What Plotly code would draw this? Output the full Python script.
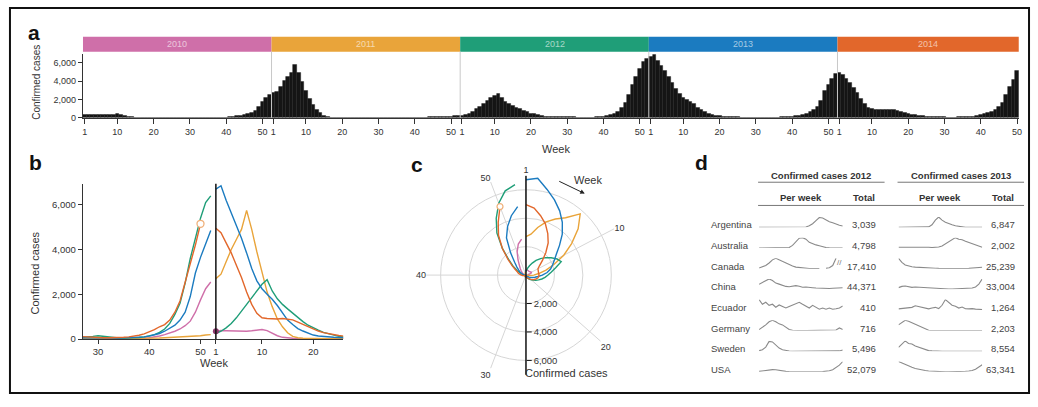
import plotly.graph_objects as go

W, H = 1038, 407


def px(x):
    return x / W


def py(y):
    return 1 - y / H


FONT = "Liberation Sans, Arial, sans-serif"
TXT = "#333333"

# ---------------- data ----------------
YEARS = [2010, 2011, 2012, 2013, 2014]
YEAR_COLORS = ["#cf6fa9", "#e9a43a", "#1f9e78", "#1b7bc0", "#e2672b"]

CASES_2010 = [350, 380, 370, 360, 350, 340, 350, 370, 390, 430,
              380, 250, 150, 80, 50, 40, 30, 30, 25, 20,
              20, 20, 20, 20, 20, 20, 20, 20, 20, 20,
              20, 20, 25, 25, 25, 30, 30, 35, 40, 60,
              90, 140, 200, 270, 350, 450, 600, 800, 1200, 1750,
              2250, 2550]
CASES_2011 = [2700, 2900, 3450, 4000, 4450, 4900, 5750, 4900, 3900, 3000,
              2100, 1450, 900, 550, 280, 120, 60, 40, 30, 30,
              25, 25, 20, 20, 20, 20, 20, 20, 20, 20,
              20, 20, 20, 20, 20, 25, 25, 25, 30, 30,
              40, 50, 60, 70, 80, 100, 110, 120, 130, 150,
              180, 200]
CASES_2012 = [250, 350, 500, 700, 950, 1250, 1550, 1850, 2150, 2450,
              2650, 2150, 1800, 1550, 1350, 1150, 950, 780, 620, 500,
              400, 300, 230, 170, 120, 90, 80, 90, 120, 150,
              120, 80, 60, 50, 50, 50, 60, 70, 100, 140,
              200, 300, 450, 700, 1100, 1600, 2500, 3600, 4500, 5400,
              6100, 6400]
CASES_2013 = [6700, 6850, 6200, 5650, 5100, 4500, 3850, 3150, 2600, 2250,
              2000, 1780, 1500, 1150, 850, 650, 470, 360, 260, 180,
              140, 110, 90, 80, 70, 60, 55, 50, 50, 50,
              50, 50, 50, 50, 55, 60, 70, 80, 100, 130,
              180, 250, 350, 480, 620, 850, 1200, 1900, 2950, 3650,
              4300, 4850]
CASES_2014 = [4950, 4750, 4300, 3850, 3300, 2750, 2100, 1550, 1150, 950,
              920, 900, 900, 920, 900, 860, 760, 660, 560, 450,
              360, 290, 240, 200, 160, 130, 110, 90, 80, 70,
              60, 60, 60, 70, 80, 100, 130, 170, 230, 320,
              420, 550, 650, 850, 1200, 1700, 2500, 3400, 4200, 5150]
WEEKLY = [CASES_2010, CASES_2011, CASES_2012, CASES_2013, CASES_2014]
WEEKS_PER_YEAR = 52

A_TICK_WEEKS = [1, 10, 20, 30, 40, 50]
A_Y_TICKS = [0, 2000, 4000, 6000]
B_TICK_WEEKS = [30, 40, 50, 1, 10, 20]
B_Y_TICKS = [0, 2000, 4000, 6000]
C_TICK_WEEKS = [1, 10, 20, 30, 40, 50]
C_R_TICKS = [2000, 4000, 6000]

# panel d: sparkline shapes (relative heights, 0-10)
COUNTRIES = ["Argentina", "Australia", "Canada", "China", "Ecuador",
             "Germany", "Sweden", "USA"]
TOTAL_2012 = [3039, 4798, 17410, 44371, 410, 716, 5496, 52079]
TOTAL_2013 = [6847, 2002, 25239, 33004, 1264, 2203, 8554, 63341]

ARG_2012 = [0, 0, 0, 0, 0, 0, 0, 0, 0, 0, 0, 0, 0, 0, 0.3, 1.5, 3.5, 6.5, 9.5,
            9, 7, 5.5, 4.5, 3, 2, 1.3]
AUS_2012 = [0, 0, 0, 0, 0, 0, 0, 0, 0, 0.5, 2.5, 6, 9.5, 10, 8.5, 5.5, 4, 3,
            2.2, 1.2, 0.5, 0.2, 0, 0, 0, 0]
CAN_2012 = [0.6, 1.5, 3, 5.5, 8.5, 10, 8.5, 6.5, 5, 3.5, 2.5, 1.5, 1, 0.5,
            0.3, 0.2, 0.1, 0, 0, None, 0.3, 0.8, 3, 10]
CHN_2012 = [4.8, 6.5, 8.5, 10, 8.5, 6, 5, 3.5, 2.8, 2.5, 2.8, 3.5, 3, 2, 2.2,
            2.2, 1.5, 1.2, 1.0, 0.8, 0.8, 0.8, 1, 1.2, 1.5, 1.5]
ECU_2012 = [10, 5.5, 7.4, 4.4, 5.5, 2.6, 4.8, 3.3, 1.9, 3.3, 4.8, 6.3, 7.4,
            5.5, 3.3, 1.9, 4.4, 2.6, 0.7, 1.9, 0.7, 1.9, 0.7, 1.1, 1.9, 3.7]
GER_2012 = [1, 3, 5.5, 8.5, 10, 8.5, 6.5, 5.5, 3, 1, 0.3, 0, 0, 0, 0, 0, 0, 0,
            0, 0, 0, 0, 0, 0.5, 2.5, 1]
SWE_2012 = [0.6, 1.5, 4, 9.5, 9, 6, 3, 1.5, 0.6, 0.2, 0, 0, 0, 0, 0, 0, 0, 0,
            0, 0, 0, 0, 0, 0, 0.3, 1.2]
USA_2012 = [0.5, 1, 1.5, 2, 2.2, 2, 1.3, 0.8, 0.5, 0.3, 0.2, 0.1, 0, 0, 0, 0,
            0, 0, 0, 0.2, 0.5, 1, 2, 4, 6.5, 10]

ARG_2013 = [0, 0, 0, 0, 0, 0, 0, 0, 0, 0.5, 2.5, 7, 10, 7, 5, 3.5, 2.5, 1.5,
            0.8, 0.3, 0, 0, 0, 0, 0, 0]
AUS_2013 = [0.8, 0.8, 1, 1.2, 1, 1.2, 1.5, 1, 1, 0.8, 0.5, 0.5, 1, 2, 4, 6,
            8.5, 10, 8.5, 8, 6.5, 5.5, 4.5, 3.5, 2.5, 0.8]
CAN_2013 = [10, 6, 3.5, 2.3, 1.8, 1.5, 1.2, 1, 0.8, 0.6, 0.5, 0.4, 0.3, 0.2,
            0.2, 0.1, 0.1, 0.1, 0.1, 0.1, 0.2, 0.3, 0.4, 0.6, 0.9, 1.3]
CHN_2013 = [1.6, 2.8, 3.2, 2.2, 1.9, 2.2, 2.0, 1.6, 1.2, 1.0, 0.8, 0.6, 0.5,
            0.4, 0.3, 0.3, 0.3, 0.4, 0.5, 0.6, 0.8, 1.0, 1.3, 2.3, 5, 10]
ECU_2013 = [1, 1.2, 1.5, 2, 2.5, 4, 3.2, 2, 1.5, 1, 1.8, 2.5, 1.3, 4.5, 10,
            7.5, 4.6, 3.6, 1.8, 2.8, 1.2, 1.0, 1.3, 0.8, 0.6, 0.4]
GER_2013 = [5.5, 8, 10, 9, 7.5, 5.5, 4, 2.5, 1, 0.3, 0, 0, 0, 0, 0, 0, 0, 0,
            0, 0, 0, 0, 0, 0, 0, 0]
SWE_2013 = [3.7, 7, 10, 7.5, 6.9, 5, 3.7, 2.5, 1.2, 0.6, 0.3, 0, 0, 0, 0, 0,
            0, 0, 0, 0, 0, 0, 0, 0, 0, 0]
USA_2013 = [10, 8.5, 6.9, 5.5, 4.4, 3.3, 2.5, 1.9, 1.3, 0.9, 0.6, 0.4, 0.3,
            0.1, 0, 0, 0, 0.1, 0.2, 0.4, 0.6, 0.9, 1.3, 2.5, 4.4, 6.9]

SPARK_2012 = [ARG_2012, AUS_2012, CAN_2012, CHN_2012, ECU_2012, GER_2012,
              SWE_2012, USA_2012]
SPARK_2013 = [ARG_2013, AUS_2013, CAN_2013, CHN_2013, ECU_2013, GER_2013,
              SWE_2013, USA_2013]
SPARK_POINTS = 26

# ---------------- figure ----------------
fig = go.Figure()
layout = {}
annotations = []
shapes = []

# ---- panel a ----
xa, ya = [], []
for yi, vals in enumerate(WEEKLY):
    for wi, v in enumerate(vals):
        xa.append(yi * WEEKS_PER_YEAR + wi)
        ya.append(v)
fig.add_trace(go.Bar(x=xa, y=ya, width=1.0,
                     marker=dict(color="#151515", line=dict(color="#151515", width=0.4)),
                     xaxis="x", yaxis="y", showlegend=False, hoverinfo="skip"))

a_last = (len(YEARS) - 1) * WEEKS_PER_YEAR + len(CASES_2014) - 1
a_tickvals = [yi * WEEKS_PER_YEAR + w - 1 for yi in range(len(YEARS)) for w in A_TICK_WEEKS]
a_ticktext = [str(w) for yi in range(len(YEARS)) for w in A_TICK_WEEKS]
layout["xaxis"] = dict(domain=[px(82.2), px(1021.8)], range=[-0.5, a_last + 0.5],
                       tickmode="array", tickvals=a_tickvals, ticktext=a_ticktext,
                       ticks="outside", ticklen=5, tickcolor="#333", showline=True,
                       linecolor="#333", linewidth=1, showgrid=False, zeroline=False,
                       tickfont=dict(size=9, color=TXT, family=FONT), anchor="y")
layout["yaxis"] = dict(domain=[py(119.3), py(54.4)], range=[0, 7000],
                       tickmode="array", tickvals=A_Y_TICKS, tickformat=",",
                       ticks="outside", ticklen=4, tickcolor="#333", showline=True,
                       linecolor="#333", linewidth=1, showgrid=False, zeroline=False,
                       tickfont=dict(size=9, color=TXT, family=FONT), anchor="x")

for yi, year in enumerate(YEARS):
    x0 = yi * WEEKS_PER_YEAR - 0.5
    x1 = min(x0 + WEEKS_PER_YEAR, a_last + 0.5)
    shapes.append(dict(type="rect", xref="x", yref="paper", x0=x0, x1=x1,
                       y0=py(52.3), y1=py(37.3), fillcolor=YEAR_COLORS[yi],
                       line=dict(width=0), layer="above"))
    annotations.append(dict(x=(x0 + x1) / 2, y=py(44.8), xref="x", yref="paper",
                            text=str(year), showarrow=False,
                            font=dict(size=9, color="rgba(255,255,255,0.6)", family=FONT)))
    if yi > 0:
        shapes.append(dict(type="line", xref="x", yref="paper", x0=x0, x1=x0,
                           y0=py(119.3), y1=py(52.3),
                           line=dict(color="#c8c8c8", width=1), layer="above"))

annotations.append(dict(x=px(557), y=py(151), xref="paper", yref="paper", text="Week",
                        showarrow=False, font=dict(size=11, color=TXT, family=FONT)))
annotations.append(dict(x=px(36), y=py(83), xref="paper", yref="paper",
                        text="Confirmed cases", textangle=-90, showarrow=False,
                        font=dict(size=10, color=TXT, family=FONT)))


# ---- panel b ----
def b_x(week):
    return week - 53 if week > 26 else week - 1


for yi, vals in enumerate(WEEKLY):
    weeks = list(range(1, len(vals) + 1))
    left_w = [w for w in weeks if w > 26]
    right_w = [w for w in weeks if w <= 26]
    for part in (left_w, right_w):
        fig.add_trace(go.Scatter(x=[b_x(w) for w in part], y=[vals[w - 1] for w in part],
                                 mode="lines", line=dict(color=YEAR_COLORS[yi], width=1.4),
                                 xaxis="x2", yaxis="y2", showlegend=False, hoverinfo="skip"))

fig.add_trace(go.Scatter(x=[b_x(1)], y=[CASES_2010[0]], mode="markers",
                         marker=dict(color="#8e3b6e", size=6),
                         xaxis="x2", yaxis="y2", showlegend=False, hoverinfo="skip"))
fig.add_trace(go.Scatter(x=[b_x(len(CASES_2014))], y=[CASES_2014[-1]], mode="markers",
                         marker=dict(color="white", size=7,
                                     line=dict(color="#efb07a", width=1.3)),
                         xaxis="x2", yaxis="y2", showlegend=False, hoverinfo="skip"))

layout["xaxis2"] = dict(domain=[px(82), px(343.5)], range=[-26, 24.85],
                        tickmode="array", tickvals=[b_x(w) for w in B_TICK_WEEKS],
                        ticktext=[str(w) for w in B_TICK_WEEKS],
                        ticks="outside", ticklen=4, tickcolor="#333", showline=True,
                        linecolor="#333", linewidth=1, showgrid=False, zeroline=False,
                        tickfont=dict(size=9.5, color=TXT, family=FONT), anchor="y2")
layout["yaxis2"] = dict(domain=[py(343.3), py(186)], range=[0, 6940],
                        tickmode="array", tickvals=B_Y_TICKS, tickformat=",",
                        ticks="outside", ticklen=4, tickcolor="#333", showline=True,
                        linecolor="#333", linewidth=1, showgrid=False, zeroline=False,
                        tickfont=dict(size=9.5, color=TXT, family=FONT), anchor="x2")
shapes.append(dict(type="line", xref="x2", yref="y2 domain", x0=b_x(1), x1=b_x(1),
                   y0=0, y1=1, line=dict(color="#111", width=1.5), layer="above"))
annotations.append(dict(x=px(214), y=py(368), xref="paper", yref="paper", text="Week",
                        showarrow=False, font=dict(size=11, color=TXT, family=FONT)))
annotations.append(dict(x=px(34), y=py(276), xref="paper", yref="paper",
                        text="Confirmed cases", textangle=-90, showarrow=False,
                        font=dict(size=11, color=TXT, family=FONT)))


# ---- panel c ----
def c_theta(week):
    return (week - 1) * 360.0 / WEEKS_PER_YEAR


for yi, vals in enumerate(WEEKLY):
    weeks = list(range(1, len(vals) + 1))
    fig.add_trace(go.Scatterpolar(theta=[c_theta(w) for w in weeks], r=vals,
                                  mode="lines", line=dict(color=YEAR_COLORS[yi], width=1.4),
                                  subplot="polar", showlegend=False, hoverinfo="skip"))
fig.add_trace(go.Scatterpolar(theta=[c_theta(len(CASES_2014))], r=[CASES_2014[-1]],
                              mode="markers",
                              marker=dict(color="white", size=6,
                                          line=dict(color="#efb07a", width=1.2)),
                              subplot="polar", showlegend=False, hoverinfo="skip"))
C_RMAX = 7000
fig.add_trace(go.Scatterpolar(theta=[c_theta(1), c_theta(1)], r=[0, C_RMAX], mode="lines",
                              line=dict(color="#111", width=1.5), subplot="polar",
                              showlegend=False, hoverinfo="skip"))

cx, cy, R = 527, 278.5, 100.8
layout["polar"] = dict(
    domain=dict(x=[px(cx - R), px(cx + R)], y=[py(cy + R), py(cy - R)]),
    bgcolor="white",
    angularaxis=dict(rotation=90, direction="clockwise", tickmode="array",
                     tickvals=[c_theta(w) for w in C_TICK_WEEKS],
                     ticktext=[str(w) for w in C_TICK_WEEKS],
                     showline=False, ticks="", gridcolor="#d6d6d6", gridwidth=1,
                     tickfont=dict(size=9, color=TXT, family=FONT)),
    radialaxis=dict(range=[0, C_RMAX], angle=-90, tickangle=-90, tickmode="array",
                    tickvals=C_R_TICKS,
                    tickformat=",", ticks="outside", ticklen=5, tickcolor="#111",
                    showline=True, linecolor="#111", linewidth=1.5,
                    gridcolor="#d6d6d6", gridwidth=1.2, side="counterclockwise",
                    tickfont=dict(size=9.5, color=TXT, family=FONT)),
)
annotations.append(dict(x=px(524), y=py(378), xref="paper", yref="paper",
                        text="Confirmed cases", xanchor="left", showarrow=False,
                        font=dict(size=11, color=TXT, family=FONT)))
annotations.append(dict(x=px(573), y=py(182), xref="paper", yref="paper", text="Week",
                        xanchor="left", showarrow=False,
                        font=dict(size=11, color=TXT, family=FONT)))
annotations.append(dict(x=px(586), y=py(196), xref="paper", yref="paper", text="",
                        showarrow=True, axref="pixel", ayref="pixel", ax=-27, ay=-13,
                        arrowhead=2, arrowsize=0.9, arrowwidth=1, arrowcolor="#222"))

# ---- panel d ----
ROW0, ROW_STEP = 227.7, 20.9
SPARK_X = [(761, 845), (901, 985)]
TOTAL_X = [880, 1020]
ax_i = 3
for ri, name in enumerate(COUNTRIES):
    yc = ROW0 + ri * ROW_STEP
    annotations.append(dict(x=px(711), y=py(yc), xref="paper", yref="paper", text=name,
                            xanchor="left", showarrow=False,
                            font=dict(size=9.5, color="#444", family=FONT)))
    for ci, (series, totals) in enumerate(((SPARK_2012, TOTAL_2012), (SPARK_2013, TOTAL_2013))):
        vals = series[ri]
        xn, yn = f"x{ax_i}", f"y{ax_i}"
        fig.add_trace(go.Scatter(x=list(range(len(vals))), y=vals, mode="lines",
                                 line=dict(color="#8a8a8a", width=1.1),
                                 connectgaps=False, xaxis=xn, yaxis=yn,
                                 showlegend=False, hoverinfo="skip"))
        base = yc + 2.5
        layout[f"xaxis{ax_i}"] = dict(domain=[px(SPARK_X[ci][0]), px(SPARK_X[ci][1])],
                                      range=[0, SPARK_POINTS - 1], visible=False,
                                      anchor=yn, fixedrange=True)
        layout[f"yaxis{ax_i}"] = dict(domain=[py(base), py(base - 10.5)],
                                      range=[0, 10], visible=False, anchor=xn,
                                      fixedrange=True)
        annotations.append(dict(x=px(TOTAL_X[ci]), y=py(yc), xref="paper", yref="paper",
                                text=f"{totals[ri]:,}", xanchor="right", showarrow=False,
                                font=dict(size=9.5, color="#444", family=FONT)))
        ax_i += 1

# break mark on Canada 2012
annotations.append(dict(x=px(842), y=py(266), xref="paper", yref="paper", text="//",
                        showarrow=False, font=dict(size=8, color="#777", family=FONT)))

HEAD_Y1, HEAD_Y2 = 178, 200
for ci, (lo, hi) in enumerate(((760, 887), (900, 1027))):
    annotations.append(dict(x=px((lo + hi) / 2), y=py(HEAD_Y1), xref="paper", yref="paper",
                            text=f"<b>Confirmed cases {2012 + ci}</b>", showarrow=False,
                            font=dict(size=9.5, color="#333", family=FONT)))
    shapes.append(dict(type="line", xref="paper", yref="paper", x0=px(lo), x1=px(hi),
                       y0=py(184.5), y1=py(184.5), line=dict(color="#777", width=1)))
    annotations.append(dict(x=px(SPARK_X[ci][0] + 42), y=py(HEAD_Y2), xref="paper",
                            yref="paper", text="<b>Per week</b>", showarrow=False,
                            font=dict(size=9.5, color="#333", family=FONT)))
    annotations.append(dict(x=px(TOTAL_X[ci] - 1), y=py(HEAD_Y2), xref="paper",
                            yref="paper", text="<b>Total</b>", xanchor="right",
                            showarrow=False, font=dict(size=9.5, color="#333", family=FONT)))
shapes.append(dict(type="line", xref="paper", yref="paper", x0=px(760), x1=px(1027),
                   y0=py(208), y1=py(208), line=dict(color="#777", width=1)))

# panel letters
for letter, (lx, ly) in zip("abcd", [(33, 33), (35, 165), (418, 167), (703, 165)]):
    annotations.append(dict(x=px(lx), y=py(ly), xref="paper", yref="paper",
                            text=f"<b>{letter}</b>", showarrow=False,
                            font=dict(size=21, color="#111", family=FONT)))

for ann in annotations:
    ann.setdefault("xanchor", "center")
    ann.setdefault("yanchor", "middle")

# frame
shapes.append(dict(type="rect", xref="paper", yref="paper", x0=px(9), x1=px(1032),
                   y0=py(398), y1=py(8), line=dict(color="#111", width=2)))

fig.update_layout(width=W, height=H, margin=dict(l=0, r=0, t=0, b=0),
                  paper_bgcolor="white", plot_bgcolor="white", bargap=0,
                  font=dict(family=FONT, color=TXT), annotations=annotations,
                  shapes=shapes, showlegend=False, **layout)

fig.write_html("out.html")
